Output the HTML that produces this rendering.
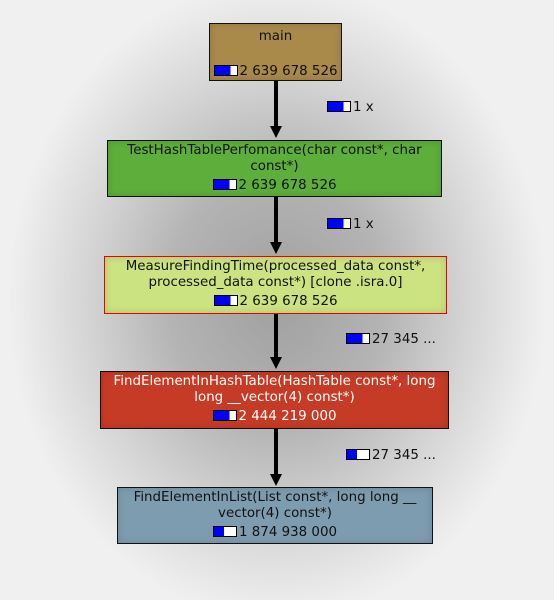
<!DOCTYPE html>
<html><head><meta charset="utf-8"><style>
body{margin:0;width:554px;height:600px;overflow:hidden;background:#f0f0f0;font-family:"DejaVu Sans","Liberation Sans",sans-serif;font-size:13.4px;color:#111;position:relative}
.bg{position:absolute;left:0;top:0;width:554px;height:600px;background:radial-gradient(ellipse 270px 320px at 277px 300px,#a0a0a0 0%,#b4b4b4 40%,#d4d4d4 70%,#ececec 95%,#f0f0f0 100%)}
.box{position:absolute;box-sizing:border-box;border:1px solid #111;text-align:center;line-height:16px;box-shadow:inset 0 0 8px rgba(0,0,0,0.15);white-space:nowrap}
.box .n{margin-top:3px}
.bar{display:inline-block;width:22px;height:9px;border:1px solid #000;background:linear-gradient(90deg,#0000ff 0 70%,#fff 70%);vertical-align:-1px;margin-right:2px}
.b2{background:linear-gradient(90deg,#0000ff 0 45%,#fff 45%)}
.v{position:absolute;left:274px;width:4px;background:#000}
.ah{position:absolute;left:270px;width:0;height:0;border-left:6px solid transparent;border-right:6px solid transparent;border-top:12px solid #000}
.lab{position:absolute;white-space:nowrap;line-height:14px}
</style></head><body>
<div class="bg"></div>
<div class="box" style="left:209px;top:23px;width:133px;height:58px;background:#a98a4b;padding-top:5px">main<div style="position:absolute;left:0;right:0;top:40px"><span class="bar"></span>2 639 678 526</div></div>
<div class="box" style="left:107px;top:140px;width:335px;height:57px;background:#5eae3c;padding-top:2px">TestHashTablePerfomance(char const*, char<br>const*)<div class="n"><span class="bar"></span>2 639 678 526</div></div>
<div class="box" style="left:104px;top:256px;width:343px;height:58px;background:#cce381;border-color:#e00;padding-top:2px">MeasureFindingTime(processed_data const*,<br>processed_data const*) [clone .isra.0]<div class="n"><span class="bar"></span>2 639 678 526</div></div>
<div class="box" style="left:100px;top:371px;width:349px;height:58px;background:#c63b25;color:#fff;padding-top:2px">FindElementInHashTable(HashTable const*, long<br>long __vector(4) const*)<div class="n"><span class="bar"></span>2 444 219 000</div></div>
<div class="box" style="left:117px;top:487px;width:316px;height:57px;background:#7e9cb0;padding-top:2px">FindElementInList(List const*, long long __<br>vector(4) const*)<div class="n"><span class="bar b2"></span>1 874 938 000</div></div>
<div class="v" style="top:81px;height:47px"></div><div class="ah" style="top:126px"></div>
<div class="v" style="top:197px;height:47px"></div><div class="ah" style="top:242px"></div>
<div class="v" style="top:314px;height:45px"></div><div class="ah" style="top:357px"></div>
<div class="v" style="top:429px;height:46px"></div><div class="ah" style="top:474px"></div>
<div class="lab" style="left:327px;top:101px"><span class="bar"></span>1 x</div>
<div class="lab" style="left:327px;top:218px"><span class="bar"></span>1 x</div>
<div class="lab" style="left:346px;top:333px"><span class="bar"></span>27 345 ...</div>
<div class="lab" style="left:346px;top:449px"><span class="bar b2"></span>27 345 ...</div>
</body></html>
